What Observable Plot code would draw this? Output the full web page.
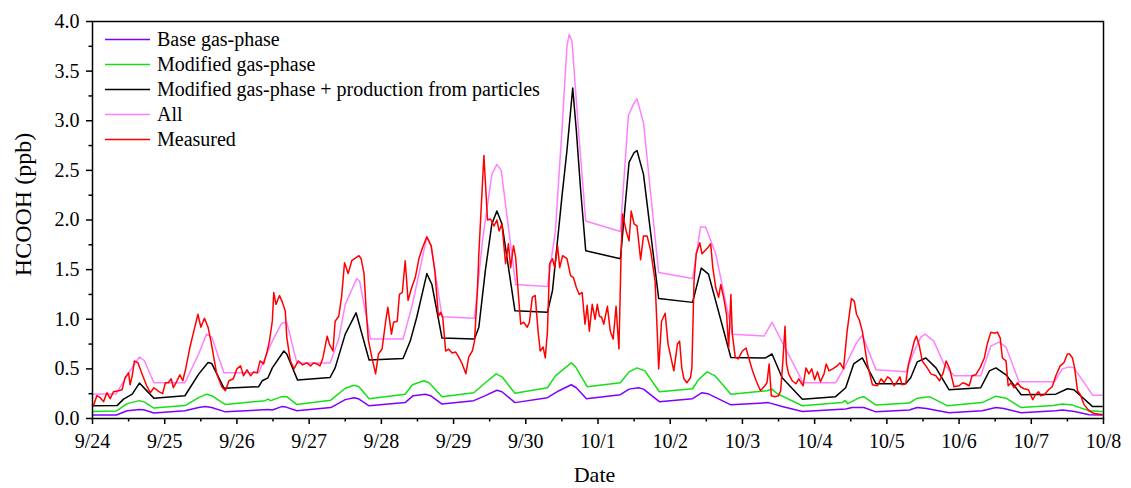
<!DOCTYPE html>
<html><head><meta charset="utf-8">
<script src="https://cdn.jsdelivr.net/npm/d3@7"></script>
<script src="https://cdn.jsdelivr.net/npm/@observablehq/plot@0.6"></script>
<style>body{margin:0;background:#fff;} svg{display:block}</style>
</head><body><div id="chart"></div>
<script>
// x = days since 9/24 00:00, y = HCOOH (ppb)
const dateLabels = ["9/24","9/25","9/26","9/27","9/28","9/29","9/30","10/1","10/2","10/3","10/4","10/5","10/6","10/7","10/8"];
const yTickValues = [0,0.5,1,1.5,2,2.5,3,3.5,4];
const seriesNames = ["Base gas-phase","Modified gas-phase","Modified gas-phase + production from particles","All","Measured"];
const seriesColors = ["#8000ff","#14e014","#000000","#ff80ff","#ff0000"];
const xTitle = "Date";
const yTitle = "HCOOH (ppb)";

const baseGas = [[0,0.035],[0.33,0.035],[0.48,0.078],[0.65,0.09],[0.72,0.085],[0.85,0.055],[1.28,0.078],[1.47,0.11],[1.56,0.12],[1.65,0.11],[1.84,0.067],[2.43,0.09],[2.49,0.085],[2.62,0.12],[2.68,0.115],[2.83,0.078],[3.30,0.11],[3.50,0.19],[3.62,0.21],[3.68,0.20],[3.83,0.128],[4.33,0.16],[4.44,0.23],[4.61,0.245],[4.68,0.23],[4.84,0.145],[5.28,0.18],[5.44,0.23],[5.60,0.285],[5.67,0.27],[5.85,0.16],[6.30,0.21],[6.46,0.28],[6.63,0.34],[6.70,0.31],[6.84,0.20],[7.31,0.24],[7.43,0.296],[7.56,0.31],[7.63,0.296],[7.85,0.17],[8.31,0.20],[8.44,0.26],[8.52,0.25],[8.84,0.138],[9.36,0.16],[9.55,0.12],[9.83,0.07],[10.43,0.095],[10.52,0.11],[10.68,0.11],[10.85,0.067],[11.31,0.085],[11.42,0.11],[11.55,0.10],[11.86,0.057],[12.32,0.078],[12.51,0.11],[12.62,0.10],[12.86,0.057],[13.34,0.078],[13.43,0.085],[13.60,0.07],[13.80,0.037],[13.98,0.035]];

const modifiedGas = [[0,0.07],[0.33,0.075],[0.48,0.15],[0.65,0.18],[0.72,0.165],[0.85,0.105],[1.28,0.13],[1.47,0.21],[1.58,0.245],[1.65,0.23],[1.84,0.14],[2.39,0.18],[2.43,0.195],[2.47,0.18],[2.62,0.22],[2.69,0.22],[2.83,0.14],[3.30,0.185],[3.50,0.305],[3.62,0.335],[3.69,0.32],[3.83,0.20],[4.33,0.245],[4.43,0.34],[4.59,0.38],[4.66,0.36],[4.84,0.22],[5.28,0.26],[5.44,0.36],[5.59,0.45],[5.67,0.42],[5.85,0.255],[6.30,0.31],[6.41,0.43],[6.63,0.56],[6.69,0.52],[6.85,0.32],[7.31,0.36],[7.43,0.47],[7.54,0.51],[7.65,0.48],[7.85,0.27],[8.31,0.30],[8.39,0.39],[8.51,0.47],[8.62,0.43],[8.84,0.245],[9.34,0.28],[9.41,0.296],[9.48,0.25],[9.83,0.128],[10.38,0.16],[10.42,0.18],[10.46,0.15],[10.62,0.21],[10.68,0.22],[10.85,0.135],[11.31,0.155],[11.42,0.205],[11.59,0.22],[11.84,0.128],[12.32,0.16],[12.51,0.225],[12.65,0.205],[12.86,0.11],[13.30,0.13],[13.43,0.145],[13.57,0.135],[13.80,0.078],[13.98,0.07]];

const modifiedParticles = [[0,0.128],[0.34,0.13],[0.43,0.195],[0.55,0.245],[0.65,0.357],[0.73,0.296],[0.85,0.205],[1.28,0.229],[1.35,0.31],[1.47,0.447],[1.60,0.565],[1.65,0.555],[1.82,0.306],[2.30,0.32],[2.35,0.38],[2.43,0.41],[2.49,0.51],[2.65,0.68],[2.69,0.65],[2.84,0.387],[3.29,0.413],[3.36,0.51],[3.50,0.85],[3.65,1.065],[3.83,0.59],[4.30,0.605],[4.40,0.78],[4.49,1.02],[4.63,1.46],[4.70,1.35],[4.84,0.81],[5.29,0.80],[5.35,0.92],[5.44,1.49],[5.53,1.96],[5.60,2.09],[5.67,1.96],[5.85,1.085],[6.30,1.07],[6.37,1.29],[6.50,2.23],[6.57,2.70],[6.65,3.33],[6.70,2.90],[6.76,2.30],[6.83,1.69],[7.31,1.61],[7.43,2.58],[7.50,2.68],[7.54,2.70],[7.63,2.46],[7.84,1.21],[8.31,1.17],[8.43,1.515],[8.53,1.455],[8.84,0.615],[9.32,0.61],[9.41,0.65],[9.55,0.41],[9.83,0.195],[10.29,0.22],[10.43,0.31],[10.54,0.55],[10.66,0.61],[10.85,0.35],[11.26,0.35],[11.33,0.41],[11.42,0.57],[11.54,0.61],[11.68,0.51],[11.86,0.29],[12.30,0.31],[12.42,0.48],[12.51,0.51],[12.65,0.44],[12.86,0.24],[13.34,0.245],[13.50,0.30],[13.59,0.29],[13.85,0.12],[13.98,0.12]];

const allSources = [[0,0.245],[0.33,0.25],[0.50,0.46],[0.65,0.62],[0.72,0.58],[0.85,0.36],[1.28,0.36],[1.47,0.65],[1.58,0.85],[1.65,0.82],[1.82,0.46],[2.30,0.46],[2.49,0.78],[2.62,0.96],[2.69,0.97],[2.83,0.56],[3.29,0.56],[3.41,0.80],[3.50,1.15],[3.66,1.41],[3.70,1.38],[3.85,0.80],[4.30,0.80],[4.43,1.15],[4.63,1.83],[4.69,1.74],[4.84,1.025],[5.29,1.01],[5.40,1.79],[5.53,2.46],[5.60,2.56],[5.66,2.50],[5.86,1.35],[6.30,1.33],[6.41,1.89],[6.50,2.90],[6.57,3.75],[6.60,3.87],[6.64,3.80],[6.73,2.90],[6.83,1.99],[7.31,1.885],[7.42,3.05],[7.50,3.18],[7.54,3.22],[7.63,2.98],[7.84,1.47],[8.31,1.41],[8.42,1.93],[8.49,1.93],[8.63,1.66],[8.86,0.85],[9.30,0.83],[9.41,0.97],[9.55,0.77],[9.84,0.36],[10.29,0.36],[10.41,0.51],[10.57,0.75],[10.66,0.84],[10.85,0.49],[11.27,0.47],[11.38,0.68],[11.47,0.82],[11.53,0.85],[11.65,0.78],[11.79,0.55],[11.93,0.43],[12.30,0.43],[12.44,0.73],[12.55,0.77],[12.65,0.72],[12.83,0.37],[13.32,0.37],[13.43,0.50],[13.52,0.52],[13.59,0.51],[13.85,0.235],[13.98,0.235]];

const measured = [[0.014,0.13],[0.06,0.23],[0.107,0.21],[0.153,0.17],[0.199,0.26],[0.245,0.20],[0.29,0.27],[0.36,0.28],[0.41,0.29],[0.45,0.41],[0.50,0.46],[0.52,0.34],[0.55,0.43],[0.58,0.58],[0.63,0.56],[0.68,0.46],[0.75,0.33],[0.80,0.26],[0.85,0.31],[0.92,0.27],[0.97,0.25],[1.01,0.36],[1.05,0.36],[1.09,0.40],[1.12,0.31],[1.17,0.38],[1.21,0.44],[1.25,0.38],[1.29,0.50],[1.35,0.72],[1.40,0.87],[1.46,1.05],[1.50,0.92],[1.55,1.01],[1.60,0.92],[1.64,0.78],[1.72,0.45],[1.79,0.32],[1.84,0.28],[1.89,0.38],[1.95,0.40],[2.00,0.50],[2.05,0.53],[2.09,0.43],[2.14,0.49],[2.19,0.43],[2.23,0.47],[2.28,0.46],[2.32,0.58],[2.37,0.55],[2.42,0.68],[2.45,0.78],[2.49,0.98],[2.51,1.27],[2.54,1.15],[2.59,1.24],[2.63,1.17],[2.67,1.08],[2.69,0.82],[2.74,0.58],[2.79,0.50],[2.85,0.58],[2.91,0.54],[2.97,0.56],[3.02,0.53],[3.06,0.56],[3.11,0.55],[3.15,0.53],[3.19,0.61],[3.25,0.83],[3.28,0.75],[3.33,0.68],[3.36,0.98],[3.41,1.03],[3.45,1.23],[3.49,1.57],[3.54,1.46],[3.59,1.59],[3.63,1.61],[3.69,1.64],[3.72,1.61],[3.76,1.46],[3.79,1.09],[3.82,0.79],[3.87,0.61],[3.92,0.45],[3.96,0.65],[4.01,0.70],[4.06,0.98],[4.09,1.12],[4.14,0.85],[4.17,0.97],[4.22,0.98],[4.25,1.25],[4.29,1.27],[4.33,1.59],[4.37,1.19],[4.42,1.32],[4.47,1.42],[4.52,1.61],[4.57,1.72],[4.63,1.83],[4.69,1.74],[4.74,1.49],[4.79,1.03],[4.82,1.07],[4.85,1.02],[4.89,0.68],[4.93,0.70],[4.98,0.66],[5.03,0.67],[5.07,0.62],[5.12,0.55],[5.17,0.45],[5.21,0.62],[5.26,0.68],[5.29,0.78],[5.33,1.29],[5.35,1.66],[5.39,2.23],[5.42,2.65],[5.47,2.00],[5.51,2.01],[5.56,1.94],[5.60,2.00],[5.63,1.89],[5.67,1.96],[5.72,1.56],[5.76,1.76],[5.79,1.52],[5.83,1.74],[5.86,1.62],[5.89,1.32],[5.93,0.95],[5.97,0.97],[6.02,0.92],[6.05,0.97],[6.09,1.22],[6.13,1.24],[6.17,0.88],[6.20,0.68],[6.24,0.72],[6.27,0.61],[6.30,0.88],[6.33,1.56],[6.37,1.61],[6.40,1.52],[6.44,1.74],[6.47,1.52],[6.51,1.64],[6.57,1.61],[6.62,1.44],[6.66,1.42],[6.70,1.32],[6.74,1.25],[6.78,1.27],[6.82,0.95],[6.85,1.14],[6.88,0.88],[6.92,1.15],[6.96,1.00],[6.99,1.15],[7.02,1.03],[7.05,1.02],[7.08,0.95],[7.13,1.13],[7.17,0.88],[7.21,0.80],[7.25,1.13],[7.29,0.70],[7.32,1.66],[7.34,2.06],[7.39,1.89],[7.43,1.79],[7.46,2.09],[7.50,1.96],[7.54,1.94],[7.59,1.60],[7.63,1.84],[7.68,1.84],[7.73,1.69],[7.79,1.39],[7.82,0.88],[7.84,0.50],[7.88,0.98],[7.93,1.06],[7.97,0.75],[8.02,0.58],[8.05,0.48],[8.10,0.75],[8.13,0.78],[8.16,0.51],[8.19,0.40],[8.23,0.36],[8.28,0.41],[8.30,0.51],[8.33,1.39],[8.36,1.66],[8.41,1.77],[8.44,1.66],[8.48,1.69],[8.52,1.72],[8.56,1.76],[8.59,1.52],[8.63,1.32],[8.67,1.22],[8.70,1.35],[8.74,1.22],[8.78,1.05],[8.81,0.71],[8.84,1.25],[8.86,0.85],[8.90,0.62],[8.94,0.60],[9.00,0.68],[9.05,0.71],[9.10,0.58],[9.14,0.48],[9.19,0.38],[9.25,0.28],[9.31,0.33],[9.34,0.36],[9.37,0.55],[9.40,0.23],[9.45,0.22],[9.50,0.23],[9.53,0.28],[9.56,0.58],[9.59,0.93],[9.61,0.55],[9.64,0.45],[9.69,0.38],[9.74,0.35],[9.78,0.40],[9.84,0.33],[9.88,0.51],[9.92,0.45],[9.96,0.50],[10.00,0.39],[10.04,0.47],[10.08,0.37],[10.13,0.45],[10.16,0.55],[10.20,0.48],[10.25,0.50],[10.31,0.53],[10.35,0.56],[10.40,0.50],[10.45,0.88],[10.51,1.21],[10.55,1.18],[10.58,1.05],[10.62,0.99],[10.66,0.88],[10.73,0.55],[10.80,0.34],[10.87,0.33],[10.92,0.40],[10.96,0.36],[11.01,0.42],[11.05,0.40],[11.10,0.33],[11.15,0.38],[11.18,0.42],[11.21,0.34],[11.26,0.35],[11.30,0.55],[11.33,0.63],[11.38,0.78],[11.41,0.83],[11.45,0.73],[11.49,0.58],[11.55,0.52],[11.61,0.45],[11.68,0.43],[11.73,0.38],[11.78,0.46],[11.82,0.58],[11.87,0.50],[11.93,0.32],[12.00,0.33],[12.05,0.36],[12.09,0.35],[12.14,0.33],[12.18,0.43],[12.23,0.44],[12.29,0.51],[12.35,0.61],[12.39,0.75],[12.44,0.87],[12.50,0.86],[12.53,0.87],[12.57,0.81],[12.60,0.61],[12.65,0.58],[12.68,0.33],[12.72,0.36],[12.76,0.31],[12.81,0.36],[12.85,0.32],[12.90,0.30],[12.96,0.29],[13.02,0.19],[13.06,0.24],[13.10,0.27],[13.13,0.23],[13.18,0.24],[13.24,0.29],[13.29,0.32],[13.34,0.43],[13.40,0.53],[13.45,0.56],[13.50,0.65],[13.53,0.65],[13.57,0.61],[13.60,0.51],[13.64,0.28],[13.68,0.24],[13.73,0.14],[13.80,0.078],[13.87,0.05],[13.98,0.04]];

const seriesData = [baseGas, modifiedGas, modifiedParticles, allSources, measured];
const majorX = d3.range(dateLabels.length);
const minorX = majorX.slice(0, -1).map(d => d + 0.5);
const minorY = yTickValues.slice(0, -1).map(d => d + 0.25);

const font = "'Liberation Serif', 'Times New Roman', serif";
const W = 1131, H = 488, mL = 92, mR = 28, mT = 21, mB = 70;

const lineMarks = seriesData.map((data, i) =>
  Plot.line(data, {x: d => d[0], y: d => d[1], stroke: seriesColors[i], strokeWidth: 1.5, curve: "linear"})
);

const chart = Plot.plot({
  width: W, height: H,
  marginLeft: mL, marginRight: mR, marginTop: mT, marginBottom: mB,
  style: {fontFamily: font, fontSize: "20px", color: "black", background: "white"},
  x: {domain: [0, 14]},
  y: {domain: [0, 4]},
  marks: [
    ...lineMarks,
    Plot.frame({stroke: "black", strokeWidth: 1.5}),
    Plot.axisX(majorX, {tickSize: 6, tickPadding: 9, tickFormat: i => dateLabels[i], label: null, strokeWidth: 1.5}),
    Plot.axisX(minorX, {tickSize: 3.5, tickFormat: () => "", label: null, strokeWidth: 1.5}),
    Plot.axisY(yTickValues, {tickSize: 6, tickPadding: 7, tickFormat: d => d.toFixed(1), label: null, strokeWidth: 1.5}),
    Plot.axisY(minorY, {tickSize: 3.5, tickFormat: () => "", label: null, strokeWidth: 1.5})
  ]
});

const svg = d3.select(chart);
// axis titles
svg.append("text").attr("transform", `translate(31,${(mT + H - mB) / 2 - 15}) rotate(-90)`)
  .attr("text-anchor", "middle").attr("font-family", font).attr("font-size", 24).attr("fill", "black").text(yTitle);
svg.append("text").attr("x", (mL + W - mR) / 2 - 3).attr("y", 482)
  .attr("text-anchor", "middle").attr("font-family", font).attr("font-size", 22).attr("fill", "black").text(xTitle);

// in-plot legend
const lg = svg.append("g").attr("font-family", font).attr("font-size", 20).attr("text-anchor", "start");
seriesNames.forEach((name, i) => {
  const y = 39.5 + 25 * i;
  lg.append("line").attr("x1", 105).attr("x2", 150).attr("y1", y).attr("y2", y)
    .attr("stroke", seriesColors[i]).attr("stroke-width", 1.5);
  lg.append("text").attr("x", 157).attr("y", y).attr("dy", "0.33em").attr("fill", "black").text(name);
});

document.getElementById("chart").appendChild(chart);
</script></body></html>
